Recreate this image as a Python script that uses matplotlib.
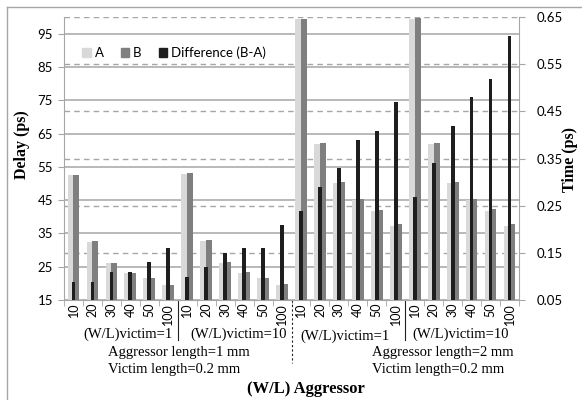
import matplotlib
matplotlib.use("Agg")
import matplotlib.pyplot as plt
from matplotlib.patches import Patch
from matplotlib.lines import Line2D

plt.rcParams['font.family'] = ['Lato', 'DejaVu Sans']

# data
labels = ['10', '20', '30', '40', '50', '100'] * 4
delay_a = [52.5, 32.5, 26.0, 23.0, 21.5, 19.5,
           52.7, 32.7, 26.0, 23.0, 21.5, 19.5,
           99.3, 62.0, 50.2, 45.0, 41.7, 37.2,
           99.5, 61.8, 50.2, 45.0, 41.7, 37.2]
delay_b = [52.6, 32.6, 26.1, 23.1, 21.5, 19.5,
           53.0, 33.0, 26.3, 23.3, 21.6, 19.7,
           99.4, 62.3, 50.5, 45.2, 42.0, 37.7,
           99.6, 62.2, 50.5, 45.2, 42.2, 37.7]
diff_time = [0.089, 0.089, 0.110, 0.110, 0.130, 0.160,
             0.099, 0.119, 0.150, 0.160, 0.160, 0.210,
             0.239, 0.290, 0.329, 0.389, 0.409, 0.469,
             0.269, 0.340, 0.419, 0.480, 0.519, 0.610]
delay_ticks = [15, 25, 35, 45, 55, 65, 75, 85, 95]
time_ticks = [0.05, 0.15, 0.25, 0.35, 0.45, 0.55, 0.65]
victim_labels = ['(W/L)victim=1', '(W/L)victim=10', '(W/L)victim=1', '(W/L)victim=10']
length_labels = ['Aggressor length=1 mm\nVictim length=0.2 mm',
                 'Aggressor length=2 mm\nVictim length=0.2 mm']

c_a, c_b, c_d = '#d9d9d9', '#7f7f7f', '#1e1e1e'
grid_c = '#a6a6a6'
W, H = 582, 400

fig = plt.figure(figsize=(W / 100, H / 100), dpi=100)
rect = [64 / W, 1 - 300 / H, (519 - 64) / W, (300 - 17) / H]

# layer for the dashed (right-axis) gridlines, behind everything
axg = fig.add_axes(rect, zorder=1)
axg.set_ylim(0.05, 0.65)
axg.set_xlim(-0.5, len(labels) - 0.5)
axg.set_yticks(time_ticks)
axg.grid(axis='y', color=grid_c, linestyle=(0, (4, 3)), linewidth=1.0)
axg.tick_params(left=False, labelleft=False, bottom=False, labelbottom=False)
for s in axg.spines.values():
    s.set_visible(False)

ax = fig.add_axes(rect, zorder=2)
ax.patch.set_visible(False)
ax2 = fig.add_axes(rect, zorder=3)
ax2.patch.set_visible(False)

x = list(range(len(labels)))
w = 0.31
ax.bar([i - w / 2 for i in x], delay_a, width=w, color=c_a, label='A', zorder=2)
ax.bar([i + w / 2 for i in x], delay_b, width=w, color=c_b, label='B', zorder=2)
ax2.bar(x, diff_time, width=0.2, color=c_d, zorder=2)

ax.set_xlim(-0.5, len(labels) - 0.5)
ax.set_ylim(15, 100)
ax.set_yticks(delay_ticks)
ax.grid(axis='y', color=grid_c, linewidth=1.1)
ax.set_axisbelow(True)
ax.set_xticks(x)
ax.set_xticklabels(labels, rotation=90, fontsize=9, va='top', ha='center')
ax.set_xticks([i - 0.5 for i in range(len(labels) + 1)], minor=True)
ax.tick_params(axis='x', which='major', length=0, pad=2)
ax.tick_params(axis='x', which='minor', length=4, color=grid_c, direction='out')
ax.tick_params(axis='y', length=4, color=grid_c, labelsize=9.5, pad=4)
for k in ['top', 'right']:
    ax.spines[k].set_visible(False)
for k in ['left', 'bottom']:
    ax.spines[k].set_color(grid_c)

ax2.set_xlim(-0.5, len(labels) - 0.5)
ax2.set_ylim(0.05, 0.65)
ax2.yaxis.tick_right()
ax2.set_yticks(time_ticks)
ax2.set_yticklabels([f'{t:.2f}' for t in time_ticks])
ax2.tick_params(axis='y', length=4, color=grid_c, labelsize=9.5, pad=9)
ax2.tick_params(bottom=False, labelbottom=False)
for k in ['top', 'left', 'bottom']:
    ax2.spines[k].set_visible(False)
ax2.spines['right'].set_color(grid_c)

# legend
handles = [Patch(color=c_a, label='A'), Patch(color=c_b, label='B'),
           Patch(color=c_d, label='Difference (B-A)')]
fig.legend(handles=handles, loc='center left', bbox_to_anchor=(82 / W, 1 - 53 / H),
           ncol=3, frameon=False, fontsize=9.5, handlelength=0.65, handleheight=0.65,
           handletextpad=0.3, columnspacing=1.3, borderpad=0, borderaxespad=0)

# group annotations below the axis
tr = ax.get_xaxis_transform()
def ypos(py):
    return (300 - py) / 283.0

serif = ['Liberation Serif', 'DejaVu Serif']
vx = [2.9, 8.7, 14.3, 20.4]
vy = [334, 334, 336, 334]
for xv, yv, t in zip(vx, vy, victim_labels):
    ax.text(xv, ypos(yv), t, transform=tr, ha='center', va='center',
            fontsize=10.5, family=serif)
for xv, t in zip([1.82, 15.74], length_labels):
    ax.text(xv, ypos(361), t, transform=tr, ha='left', va='center',
            fontsize=10.5, family=serif, linespacing=1.45)
for xb in [5.5, 17.5]:
    ax.plot([xb, xb], [0, ypos(340)], transform=tr, color='#222222',
            linewidth=0.8, clip_on=False)
ax.plot([11.5, 11.5], [0, ypos(363)], transform=tr, color='#222222',
        linewidth=0.8, linestyle=(0, (2, 2)), clip_on=False)

fig.text(306 / W, 1 - 389 / H, '(W/L) Aggressor', ha='center', va='center',
         fontsize=12, fontweight='bold', family=serif)
fig.text(22 / W, 1 - 145 / H, 'Delay (ps)', ha='center', va='center', rotation=90,
         fontsize=11.5, fontweight='bold', family=serif)
fig.text(570 / W, 1 - 160 / H, 'Time (ps)', ha='center', va='center', rotation=90,
         fontsize=11.5, fontweight='bold', family=serif)

# chart border
fig.add_artist(Line2D([7 / W, 7 / W], [0, 1 - 7 / H], color=grid_c, linewidth=1))
fig.add_artist(Line2D([7 / W, 1], [1 - 7 / H, 1 - 7 / H], color=grid_c, linewidth=1))

fig.savefig('out.png', dpi=100)
